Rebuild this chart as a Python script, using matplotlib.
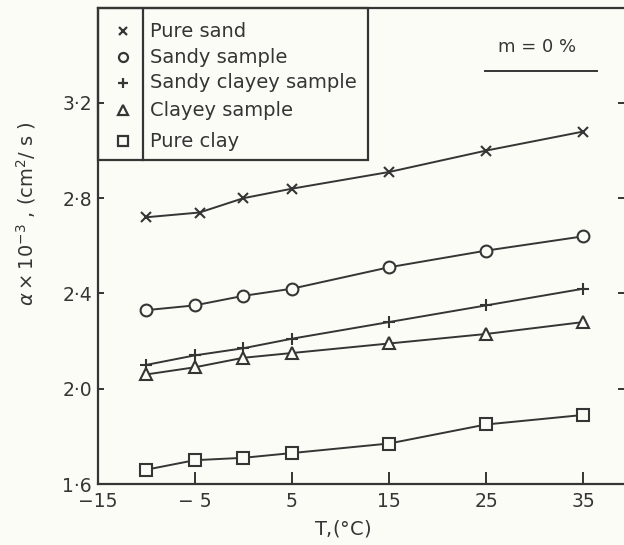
import matplotlib
matplotlib.use("Agg")
import matplotlib.pyplot as plt
from matplotlib.patches import Rectangle
from matplotlib.lines import Line2D

# ---- data ----
series_names = ["Pure sand", "Sandy sample", "Sandy clayey sample", "Clayey sample", "Pure clay"]
markers = ["x", "o", "+", "^", "s"]

T_sand = [-10, -4.5, 0, 5, 15, 25, 35]
a_sand = [2.72, 2.74, 2.80, 2.84, 2.91, 3.00, 3.08]

T_sandy = [-10, -5, 0, 5, 15, 25, 35]
a_sandy = [2.33, 2.35, 2.39, 2.42, 2.51, 2.58, 2.64]

T_sc = [-10, -5, 0, 5, 15, 25, 35]
a_sc = [2.10, 2.14, 2.17, 2.21, 2.28, 2.35, 2.42]

T_clayey = [-10, -5, 0, 5, 15, 25, 35]
a_clayey = [2.06, 2.09, 2.13, 2.15, 2.19, 2.23, 2.28]

T_clay = [-10, -5, 0, 5, 15, 25, 35]
a_clay = [1.66, 1.70, 1.71, 1.73, 1.77, 1.85, 1.89]

x_ticks = [-15, -5, 5, 15, 25, 35]
x_ticklabels = ["\u221215", "\u2212 5", "5", "15", "25", "35"]
y_ticks = [1.6, 2.0, 2.4, 2.8, 3.2]
y_ticklabels = ["1\u00b76", "2\u00b70", "2\u00b74", "2\u00b78", "3\u00b72"]

# ---- style ----
bg = "#fcfcf6"
ink = "#353535"
plt.rcParams["font.family"] = ["DejaVu Sans"]

fig = plt.figure(figsize=(6.24, 5.45), dpi=100, facecolor=bg)
ax = fig.add_axes([0.1563, 0.1119, 0.847, 0.874], facecolor=bg)

Ts = [T_sand, T_sandy, T_sc, T_clayey, T_clay]
As = [a_sand, a_sandy, a_sc, a_clayey, a_clay]
msizes = [7, 8.5, 9, 8.5, 8.5]
for T, a, m, ms in zip(Ts, As, markers, msizes):
    ax.plot(T, a, color=ink, lw=1.4, marker=m, ms=ms, mew=1.5,
            mfc=bg, mec=ink, clip_on=False, zorder=3)

ax.set_xlim(-15, 39.4)
ax.set_ylim(1.6, 3.6)

for s in ax.spines.values():
    s.set_linewidth(1.6)
    s.set_color(ink)

ax.set_xticks(x_ticks)
ax.set_xticklabels(x_ticklabels)
ax.set_yticks(y_ticks)
ax.set_yticklabels(y_ticklabels)
ax.tick_params(axis="x", direction="in", length=8.5, width=1.4, pad=6,
               labelsize=13.5, colors=ink)
ax.tick_params(axis="y", which="both", direction="in", length=4, width=1.4, pad=4,
               labelsize=13.5, colors=ink, right=True)
ax.tick_params(axis="y", which="both", right=True, labelright=False)
for t in ax.yaxis.get_major_ticks():
    t.tick2line.set_markersize(6)

ax.set_xlabel("T,($\\degree$C)", fontsize=14, color=ink)
ax.xaxis.set_label_coords(0.463, -0.072)
ax.set_ylabel("$\\alpha \\times 10^{-3}$ , (cm$^{2}$/ s )", fontsize=14, color=ink)
ax.yaxis.set_label_coords(-0.112, 0.567)

# ---- legend box (drawn in axes coordinates) ----
tr = ax.transAxes
ax.add_patch(Rectangle((0.0, 0.680), 0.5114, 0.32, transform=tr, fill=False,
                       ec=ink, lw=1.6, zorder=4, clip_on=False))
ax.add_line(Line2D([0.0855, 0.0855], [0.680, 1.0], transform=tr, color=ink, lw=1.6, zorder=4))
rows = [0.951, 0.896, 0.842, 0.785, 0.720]
lms = [6, 6.5, 7, 6.5, 6.5]
for name, m, y, ms in zip(series_names, markers, rows, lms):
    ax.plot([0.0482], [y], transform=tr, marker=m, ms=ms, mew=1.6, mfc=bg,
            mec=ink, ls="none", clip_on=False, zorder=5)
    ax.text(0.0993, y, name, transform=tr, fontsize=14, color=ink,
            ha="left", va="center", zorder=5)

# ---- annotation ----
ax.text(0.8315, 0.917, "m = 0 %", transform=tr, fontsize=13, color=ink,
        ha="center", va="center")
ax.add_line(Line2D([0.733, 0.945], [0.868, 0.868], transform=tr, color=ink, lw=1.4))

fig.savefig("out.png", dpi=100, facecolor=bg)
